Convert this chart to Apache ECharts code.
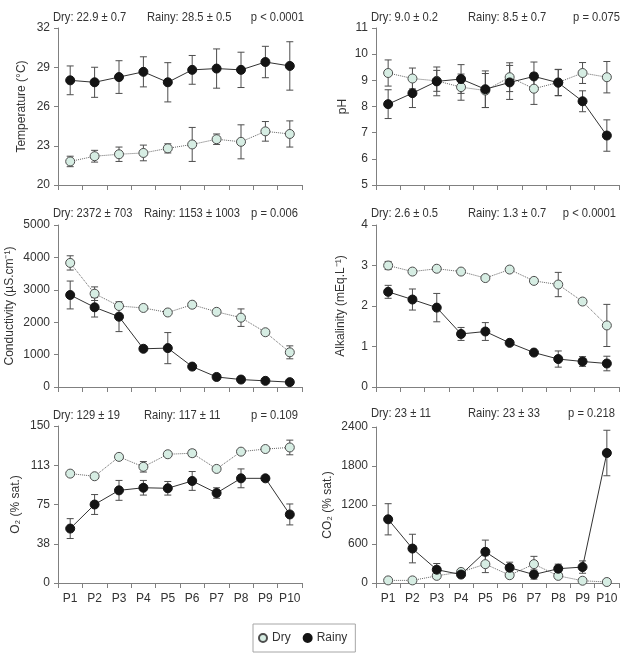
<!DOCTYPE html>
<html>
<head>
<meta charset="utf-8">
<script src="https://cdn.jsdelivr.net/npm/echarts@6/dist/echarts.min.js"></script>
<style>
  html, body { margin: 0; padding: 0; background: #fff; }
  #chart { width: 622px; height: 653px; }
</style>
</head>
<body>
<div id="chart"></div>
<script>
// sampling points
const categories = ['P1', 'P2', 'P3', 'P4', 'P5', 'P6', 'P7', 'P8', 'P9', 'P10'];

// temperature (°C)
const tempDry = [21.8, 22.2, 22.35, 22.45, 22.8, 23.1, 23.5, 23.3, 24.1, 23.9];
const tempDryErr = [0.4, 0.45, 0.55, 0.6, 0.35, 1.3, 0.4, 1.3, 0.75, 1.0];
const tempRainy = [28.0, 27.85, 28.25, 28.65, 27.85, 28.8, 28.9, 28.8, 29.4, 29.1];
const tempRainyErr = [1.1, 1.15, 1.25, 1.15, 1.5, 1.1, 1.5, 1.35, 1.2, 1.85];
const tempStats = ['Dry: 22.9 ± 0.7', 'Rainy: 28.5 ± 0.5', 'p < 0.0001'];

// pH
const phDry = [9.28, 9.07, 8.98, 8.74, 8.61, 9.12, 8.68, 8.92, 9.28, 9.12];
const phDryErr = [0.5, 0.4, 0.4, 0.5, 0.65, 0.55, 0.6, 0.5, 0.4, 0.6];
const phRainy = [8.09, 8.51, 8.96, 9.05, 8.66, 8.92, 9.15, 8.91, 8.2, 6.89];
const phRainyErr = [0.55, 0.55, 0.55, 0.55, 0.7, 0.65, 0.55, 0.5, 0.4, 0.6];
const phStats = ['Dry: 9.0 ± 0.2', 'Rainy: 8.5 ± 0.7', 'p = 0.075'];

// conductivity (µS/cm)
const condDry = [3830, 2880, 2500, 2440, 2300, 2540, 2320, 2140, 1690, 1070];
const condDryErr = [220, 210, 60, 50, 50, 60, 50, 270, 60, 200];
const condRainy = [2840, 2460, 2170, 1180, 1200, 630, 310, 230, 190, 150];
const condRainyErr = [430, 300, 460, 60, 480, 40, 40, 30, 30, 30];
const condStats = ['Dry: 2372 ± 703', 'Rainy: 1153 ± 1003', 'p = 0.006'];

// alkalinity (mEq/L)
const alkDry = [3.0, 2.85, 2.92, 2.85, 2.69, 2.9, 2.62, 2.53, 2.11, 1.52];
const alkDryErr = [0.1, 0.03, 0.03, 0.03, 0.03, 0.06, 0.03, 0.3, 0.03, 0.52];
const alkRainy = [2.35, 2.16, 1.96, 1.31, 1.37, 1.09, 0.85, 0.69, 0.63, 0.58];
const alkRainyErr = [0.16, 0.26, 0.35, 0.16, 0.22, 0.03, 0.03, 0.2, 0.12, 0.18];
const alkStats = ['Dry: 2.6 ± 0.5', 'Rainy: 1.3 ± 0.7', 'p < 0.0001'];

// O2 (% sat.)
const o2Dry = [104.5, 102, 120.5, 111, 123, 124, 109, 125.5, 128, 129.5];
const o2DryErr = [1, 1, 1, 5, 1, 3, 1, 1, 1, 7];
const o2Rainy = [52, 75, 88.5, 91, 90.5, 97.5, 86, 100, 100, 65.5];
const o2RainyErr = [9.5, 9.5, 9.5, 7, 6.5, 9, 5, 9, 2, 10];
const o2Stats = ['Dry: 129 ± 19', 'Rainy: 117 ± 11', 'p = 0.109'];

// CO2 (% sat.)
const co2Dry = [40, 40, 110, 170, 290, 120, 290, 110, 35, 15];
const co2DryErr = [10, 10, 40, 20, 130, 40, 120, 20, 10, 5];
const co2Rainy = [980, 530, 205, 130, 480, 235, 130, 220, 245, 2000];
const co2RainyErr = [240, 220, 95, 20, 180, 85, 70, 70, 95, 350];
const co2Stats = ['Dry: 23 ± 11', 'Rainy: 23 ± 33', 'p = 0.218'];

const FONT = '"Liberation Sans", Arial, sans-serif';
const TEXT = '#333';
const AXIS = '#808080';

// panel layout (pixels)
const panels = [
  { name: 'Temperature (°C)', min: 20, max: 32, step: 3, gap: 30, dry: tempDry, dryErr: tempDryErr, rainy: tempRainy, rainyErr: tempRainyErr, stats: tempStats,
    left: 58, top: 28, width: 244, height: 157, statY: 17, rainyX: 147, pX: 304, labels: false },
  { name: 'pH', min: 5, max: 11, step: 1, gap: 27, dry: phDry, dryErr: phDryErr, rainy: phRainy, rainyErr: phRainyErr, stats: phStats,
    left: 376, top: 28, width: 243, height: 157, statY: 17, rainyX: 468, pX: 620, labels: false },
  { name: 'Conductivity (µS.cm⁻¹)', min: 0, max: 5000, step: 1000, gap: 42, dry: condDry, dryErr: condDryErr, rainy: condRainy, rainyErr: condRainyErr, stats: condStats,
    left: 58, top: 225, width: 244, height: 162, statY: 213, rainyX: 144, pX: 298, labels: false },
  { name: 'Alkalinity (mEq.L⁻¹)', min: 0, max: 4, step: 1, gap: 29, dry: alkDry, dryErr: alkDryErr, rainy: alkRainy, rainyErr: alkRainyErr, stats: alkStats,
    left: 376, top: 225, width: 243, height: 162, statY: 213, rainyX: 468, pX: 616, labels: false },
  { name: 'O₂ (% sat.)', min: 0, max: 150, step: 37.5, gap: 36, dry: o2Dry, dryErr: o2DryErr, rainy: o2Rainy, rainyErr: o2RainyErr, stats: o2Stats,
    left: 58, top: 426, width: 244, height: 157, statY: 415, rainyX: 144, pX: 298, labels: true },
  { name: 'CO₂ (% sat.)', min: 0, max: 2400, step: 600, gap: 42, dry: co2Dry, dryErr: co2DryErr, rainy: co2Rainy, rainyErr: co2RainyErr, stats: co2Stats,
    left: 376, top: 427, width: 243, height: 156, statY: 413, rainyX: 468, pX: 615, labels: true }
];

// vertical error bar with caps
function errorBar(params, api) {
  const x = api.value(0);
  const v = api.value(1);
  const e = api.value(2);
  const hi = api.coord([x, v + e]);
  const lo = api.coord([x, v - e]);
  const cap = 3.5;
  const style = { stroke: '#4d4d4d', lineWidth: 1 };
  return {
    type: 'group',
    children: [
      { type: 'line', shape: { x1: hi[0], y1: hi[1], x2: lo[0], y2: lo[1] }, style: style },
      { type: 'line', shape: { x1: hi[0] - cap, y1: hi[1], x2: hi[0] + cap, y2: hi[1] }, style: style },
      { type: 'line', shape: { x1: lo[0] - cap, y1: lo[1], x2: lo[0] + cap, y2: lo[1] }, style: style }
    ]
  };
}

const grid = [], xAxis = [], yAxis = [], series = [], graphic = [];

panels.forEach((p, i) => {
  grid.push({ left: p.left, top: p.top, width: p.width, height: p.height });
  xAxis.push({
    type: 'category', gridIndex: i, data: categories, boundaryGap: true,
    axisLine: { lineStyle: { color: AXIS } },
    axisTick: { show: true, length: 5, alignWithLabel: false, lineStyle: { color: AXIS } },
    axisLabel: { show: p.labels, color: TEXT, fontSize: 12, fontFamily: FONT, margin: 10, interval: 0 },
    splitLine: { show: false }
  });
  yAxis.push({
    type: 'value', gridIndex: i, min: p.min, max: p.max, interval: p.step,
    name: p.name, nameLocation: 'middle', nameGap: p.gap,
    nameTextStyle: { color: TEXT, fontSize: 12, fontFamily: FONT },
    axisLine: { show: true, lineStyle: { color: AXIS } },
    axisTick: { show: true, length: 4, lineStyle: { color: AXIS } },
    axisLabel: { color: TEXT, fontSize: 12, fontFamily: FONT, margin: 8, formatter: v => String(Math.round(v)) },
    splitLine: { show: false }
  });

  series.push({
    type: 'custom', name: 'errDry' + i, xAxisIndex: i, yAxisIndex: i, z: 2,
    renderItem: errorBar, encode: { x: 0, y: 1 },
    data: p.dry.map((v, k) => [k, v, p.dryErr[k]])
  });
  series.push({
    type: 'custom', name: 'errRainy' + i, xAxisIndex: i, yAxisIndex: i, z: 2,
    renderItem: errorBar, encode: { x: 0, y: 1 },
    data: p.rainy.map((v, k) => [k, v, p.rainyErr[k]])
  });
  series.push({
    type: 'line', name: 'Dry', xAxisIndex: i, yAxisIndex: i, z: 3,
    data: p.dry, symbol: 'circle', symbolSize: 9, showAllSymbol: true,
    lineStyle: { color: '#666', width: 1, type: 'dotted' },
    itemStyle: { color: '#d6ede3', borderColor: '#4d4d4d', borderWidth: 1 },
    emphasis: { disabled: true }
  });
  series.push({
    type: 'line', name: 'Rainy', xAxisIndex: i, yAxisIndex: i, z: 4,
    data: p.rainy, symbol: 'circle', symbolSize: 9, showAllSymbol: true,
    lineStyle: { color: '#333', width: 1 },
    itemStyle: { color: '#141414', borderColor: '#141414', borderWidth: 1 },
    emphasis: { disabled: true }
  });

  // summary statistics above each panel (condensed text)
  const ts = { fill: TEXT, fontSize: 13, fontFamily: FONT, verticalAlign: 'middle' };
  graphic.push({ type: 'text', x: p.left - 5, y: p.statY, scaleX: 0.86, style: Object.assign({ text: p.stats[0], align: 'left' }, ts) });
  graphic.push({ type: 'text', x: p.rainyX, y: p.statY, scaleX: 0.86, style: Object.assign({ text: p.stats[1], align: 'left' }, ts) });
  graphic.push({ type: 'text', x: p.pX, y: p.statY, scaleX: 0.86, style: Object.assign({ text: p.stats[2], align: 'right' }, ts) });
});

const chart = echarts.init(document.getElementById('chart'));
chart.setOption({
  animation: false,
  backgroundColor: '#fff',
  grid: grid,
  xAxis: xAxis,
  yAxis: yAxis,
  series: series,
  graphic: graphic,
  legend: {
    data: ['Dry', 'Rainy'],
    left: 253, top: 624,
    icon: 'circle', itemWidth: 8, itemHeight: 8, itemGap: 12,
    padding: [8, 8, 8, 5],
    borderColor: '#a6a6a6', borderWidth: 1,
    textStyle: { color: TEXT, fontSize: 12, fontFamily: FONT },
    selectedMode: false
  }
});
</script>
</body>
</html>
